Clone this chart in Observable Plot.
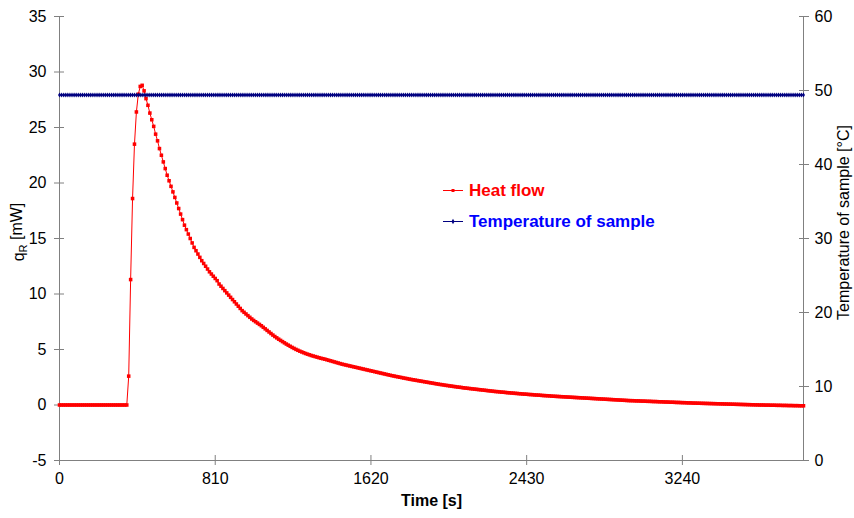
<!DOCTYPE html>
<html><head><meta charset="utf-8">
<script src="https://cdn.jsdelivr.net/npm/d3@7"></script>
<script src="https://cdn.jsdelivr.net/npm/@observablehq/plot@0.6"></script>
<style>
body{margin:0;background:#fff;}
#chart{width:854px;height:518px;}
</style></head><body><div id="chart"></div>
<script>
// ---- data ----
const timeStep = 10; // s between samples (first sample at t = 0)
const heatFlow = [ // q_R in mW
  0,0,0,0,0,0,0,0,0,0,
  0,0,0,0,0,0,0,0,0,0,
  0,0,0,0,0,0,0,0,0,0,
  0,0,0,0,0,0,2.6,11.3,18.6,23.5,
  26.4,28.0,28.7,28.8,28.3,27.6,27.0,26.3,25.7,25.1,
  24.4,23.8,23.1,22.5,21.9,21.3,20.7,20.2,19.7,19.2,
  18.7,18.2,17.7,17.2,16.7,16.2,15.8,15.4,15.0,14.6,
  14.2,13.9,13.6,13.3,13.0,12.75,12.5,12.25,12.0,11.8,
  11.6,11.4,11.2,10.9,10.7,10.5,10.3,10.1,9.9,9.7,
  9.5,9.3,9.1,8.9,8.7,8.5,8.35,8.2,8.05,7.9,
  7.75,7.62,7.5,7.38,7.26,7.14,7.0,6.86,6.72,6.58,
  6.44,6.3,6.17,6.05,5.93,5.82,5.71,5.6,5.49,5.39,
  5.29,5.19,5.1,5.01,4.93,4.85,4.78,4.71,4.64,4.58,
  4.52,4.46,4.41,4.36,4.31,4.26,4.21,4.17,4.13,4.08,
  4.03,3.98,3.93,3.88,3.83,3.78,3.73,3.68,3.64,3.6,
  3.56,3.52,3.48,3.44,3.4,3.36,3.32,3.28,3.24,3.2,
  3.16,3.12,3.08,3.04,3.0,2.96,2.92,2.88,2.84,2.8,
  2.76,2.72,2.68,2.64,2.61,2.57,2.54,2.5,2.47,2.43,
  2.4,2.37,2.33,2.3,2.27,2.24,2.21,2.18,2.15,2.12,
  2.09,2.06,2.03,2.0,1.97,1.94,1.91,1.88,1.85,1.83,
  1.8,1.77,1.75,1.72,1.7,1.67,1.65,1.62,1.6,1.58,
  1.55,1.53,1.51,1.49,1.47,1.45,1.43,1.41,1.39,1.37,
  1.35,1.33,1.31,1.29,1.27,1.25,1.23,1.21,1.2,1.18,
  1.16,1.15,1.13,1.11,1.1,1.08,1.07,1.05,1.04,1.02,
  1.01,0.99,0.98,0.97,0.95,0.94,0.93,0.91,0.9,0.89,
  0.88,0.86,0.85,0.84,0.83,0.82,0.8,0.79,0.78,0.77,
  0.76,0.75,0.74,0.73,0.72,0.71,0.7,0.69,0.68,0.67,
  0.66,0.65,0.64,0.63,0.62,0.61,0.6,0.59,0.58,0.57,
  0.56,0.55,0.54,0.53,0.52,0.51,0.5,0.49,0.48,0.47,
  0.46,0.45,0.44,0.43,0.42,0.41,0.4,0.39,0.39,0.38,
  0.37,0.37,0.36,0.35,0.35,0.34,0.33,0.33,0.32,0.31,
  0.31,0.3,0.29,0.29,0.28,0.27,0.27,0.26,0.25,0.25,
  0.24,0.23,0.23,0.22,0.21,0.21,0.2,0.19,0.19,0.18,
  0.17,0.17,0.16,0.16,0.15,0.15,0.14,0.14,0.13,0.13,
  0.12,0.12,0.11,0.11,0.1,0.1,0.09,0.09,0.08,0.08,
  0.07,0.07,0.06,0.06,0.05,0.05,0.04,0.04,0.03,0.03,
  0.02,0.02,0.01,0.01,0,0,0,-0.01,-0.01,-0.01,
  -0.02,-0.02,-0.02,-0.03,-0.03,-0.03,-0.04,-0.04,-0.04,-0.05,
  -0.05,-0.05,-0.06,-0.06,-0.06,-0.07,-0.07,-0.07
];
const sampleTemperature = 49.4; // °C, flat for every sample
const xTicks = [0, 810, 1620, 2430, 3240];
const leftTicks = [-5, 0, 5, 10, 15, 20, 25, 30, 35];
const rightTicks = [0, 10, 20, 30, 40, 50, 60];
const xDomain = [0, 3870];
const yDomain = [-5, 35];
const tempDomain = [0, 60];
const seriesNames = ["Heat flow", "Temperature of sample"];
const xTitle = "Time [s]";
const rightTitle = "Temperature of sample [°C]";
const leftTitleParts = ["q", "R", " [mW]"];

// ---- styling ----
const font = "'Liberation Sans', Arial, sans-serif";
const axisColor = "#808080";
const heatColor = "#ff0000";
const tempColor = "#000080";
const tempTextColor = "#0000ff";

// map temperature onto the left scale (secondary axis)
const toLeft = T => yDomain[0] + (T - tempDomain[0]) * (yDomain[1] - yDomain[0]) / (tempDomain[1] - tempDomain[0]);
const fromLeft = y => tempDomain[0] + (y - yDomain[0]) * (tempDomain[1] - tempDomain[0]) / (yDomain[1] - yDomain[0]);

const rows = heatFlow.map((q, i) => ({t: i * timeStep, q, temp: sampleTemperature}));

const chart = Plot.plot({
  width: 854, height: 518,
  marginLeft: 59, marginRight: 51, marginTop: 16, marginBottom: 58,
  style: {fontFamily: font, background: "white", color: "black", overflow: "visible"},
  x: {domain: xDomain},
  y: {domain: yDomain},
  marks: [
    Plot.ruleX(xDomain, {stroke: axisColor}),
    Plot.ruleY([yDomain[0]], {stroke: axisColor}),
    // crossing tick lines
    Plot.axisY(leftTicks, {anchor: "left", tickSize: 10, dx: 5, fill: "none", stroke: axisColor, label: null}),
    Plot.axisY(rightTicks.map(toLeft), {anchor: "right", tickSize: 10, dx: -5, fill: "none", stroke: axisColor, label: null}),
    Plot.axisX(xTicks, {anchor: "bottom", tickSize: 10, dy: -5, fill: "none", stroke: axisColor, label: null}),
    // tick labels
    Plot.axisY(leftTicks, {anchor: "left", tickSize: 0, tickPadding: 13, fontSize: 16, fill: "black", label: null,
      tickFormat: d => String(d)}),
    Plot.axisY(rightTicks.map(toLeft), {anchor: "right", tickSize: 0, tickPadding: 11, fontSize: 16, fill: "black", label: null,
      tickFormat: d => String(Math.round(fromLeft(d)))}),
    Plot.axisX(xTicks, {anchor: "bottom", tickSize: 0, tickPadding: 12, fontSize: 16, fill: "black", label: null,
      tickFormat: d => String(d)}),
    // series
    Plot.line(rows, {x: "t", y: "q", stroke: heatColor, strokeWidth: 1}),
    Plot.dot(rows, {x: "t", y: "q", symbol: "square", r: 2, fill: heatColor, stroke: "none"}),
    Plot.line(rows, {x: "t", y: d => toLeft(d.temp), stroke: tempColor, strokeWidth: 1}),
    Plot.dot(rows, {x: "t", y: d => toLeft(d.temp), symbol: "diamond", r: 1.5, fill: tempColor, stroke: "none"}),
    // titles
    Plot.text([xTitle], {text: d => d, frameAnchor: "bottom", dy: 45, fontSize: 16, fontWeight: "bold", fill: "black"}),
    Plot.text([rightTitle], {text: d => d, frameAnchor: "right", textAnchor: "middle", dx: 40, dy: -16, rotate: -90, fontSize: 16, fill: "black"})
  ]
});

document.getElementById("chart").appendChild(chart);

const svg = d3.select(chart.tagName.toLowerCase() === "svg" ? chart : chart.querySelector("svg"));

// left title with subscript R
const yt = svg.append("text")
  .attr("transform", "translate(18,232) rotate(-90)")
  .attr("text-anchor", "middle").attr("dy", "0.35em")
  .attr("font-family", font).attr("font-size", 16).attr("fill", "black");
yt.append("tspan").text(leftTitleParts[0]);
yt.append("tspan").attr("font-size", 11).attr("dy", "0.3em").text(leftTitleParts[1]);
yt.append("tspan").attr("dy", "-0.3em").text(leftTitleParts[2]);

// legend
const legendItems = [
  {name: seriesNames[0], line: heatColor, text: heatColor, symbol: d3.symbolSquare, size: 9},
  {name: seriesNames[1], line: tempColor, text: tempTextColor, symbol: d3.symbolDiamond, size: 8}
];
const leg = svg.append("g").attr("font-family", font).attr("text-anchor", "start");
legendItems.forEach((it, i) => {
  const y = 190.5 + i * 31;
  leg.append("line").attr("x1", 443).attr("x2", 463).attr("y1", y).attr("y2", y)
    .attr("stroke", it.line).attr("stroke-width", 1);
  leg.append("path").attr("d", d3.symbol(it.symbol, it.size)()).attr("transform", `translate(453,${y})`)
    .attr("fill", it.line);
  leg.append("text").attr("x", 469).attr("y", y).attr("dy", "0.35em")
    .attr("font-size", 17).attr("font-weight", "bold").attr("fill", it.text).text(it.name);
});
</script>
</body></html>
